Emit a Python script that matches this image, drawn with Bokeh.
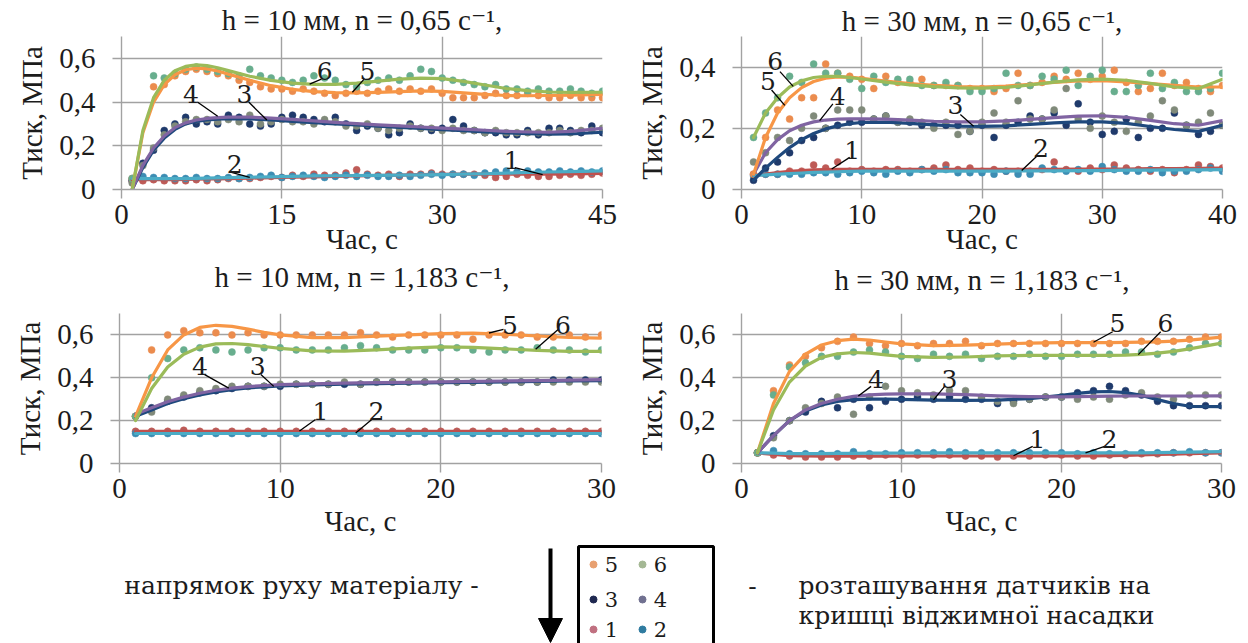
import numpy as np
from bokeh.plotting import figure
from bokeh.layouts import column, row
from bokeh.models import (Range1d, FixedTicker, CustomJSTickFormatter, Label, Title,
                          Arrow, NormalHead, ColumnDataSource)
from bokeh.embed import file_html
from bokeh.resources import INLINE
from bokeh.core.properties import value

NAN = float("nan")

# ---------------- data ----------------
t1 = list(range(1, 46))
p1_s1 = [0.04,0.04,0.045,0.04,0.04,0.04,0.045,0.04,0.045,0.05,0.05,0.05,0.055,0.06,0.055,0.065,0.06,0.07,0.065,0.065,0.075,0.09,0.07,0.065,0.07,0.06,0.07,0.07,0.075,0.07,0.07,0.07,0.07,0.065,0.055,0.06,0.07,0.065,0.06,0.06,0.065,0.07,0.065,0.07,0.075]
p1_s2 = [0.05,0.06,0.055,0.055,0.05,0.05,0.055,0.05,0.05,0.055,0.05,0.055,0.06,0.065,0.055,0.06,0.065,0.06,0.055,0.06,0.065,0.06,0.065,0.06,0.06,0.065,0.06,0.065,0.07,0.065,0.07,0.07,0.065,0.075,0.08,0.085,0.08,0.085,0.08,0.08,0.085,0.08,0.085,0.08,0.085]
p1_s3 = [0.04,0.12,0.18,0.27,0.30,0.33,0.30,0.31,0.30,0.34,0.33,0.30,0.29,0.30,0.33,0.34,0.33,0.32,0.31,0.33,0.30,0.27,0.29,0.28,0.25,0.26,0.30,0.28,0.27,0.28,0.32,0.29,0.27,0.26,0.26,0.25,0.25,0.27,0.25,0.28,0.28,0.27,0.26,0.29,0.26]
p1_s4 = [0.03,0.11,0.19,0.25,0.29,0.31,0.32,0.32,0.31,0.32,0.31,0.34,0.30,0.31,0.32,0.31,0.31,0.30,0.32,0.31,0.29,0.29,0.30,0.28,0.27,0.28,0.29,0.28,0.28,0.27,0.28,0.27,0.27,0.26,0.27,0.26,0.26,0.26,0.26,0.26,0.27,0.26,0.27,0.27,0.28]
p1_s5 = [0.05,NAN,0.47,0.48,0.52,0.54,0.55,0.54,0.53,0.52,0.50,0.49,0.47,0.46,0.46,0.45,0.46,0.45,0.44,0.43,0.44,0.45,0.44,0.45,0.46,0.45,0.46,0.45,0.46,0.44,0.42,0.42,0.42,0.43,0.44,0.43,0.43,0.44,0.43,0.42,0.42,0.43,0.42,0.42,0.42]
p1_s6 = [0.05,NAN,0.52,0.51,0.53,0.55,0.56,0.55,0.54,0.53,0.52,0.55,0.52,0.51,0.50,0.49,0.50,0.52,0.51,0.50,0.48,0.47,0.49,0.50,0.51,0.50,0.52,0.55,0.54,0.51,0.50,0.49,0.48,0.47,0.48,0.46,0.46,0.45,0.46,0.45,0.45,0.46,0.45,0.44,0.45]
k1 = [1,2,3,4,5,6,7,8,9,10,12,14,16,18,20,22,24,26,28,30,32,34,36,38,40,42,45]
p1_l1 = [0.045,0.045,0.045,0.045,0.045,0.046,0.047,0.048,0.049,0.05,0.052,0.054,0.056,0.058,0.06,0.062,0.064,0.066,0.068,0.069,0.07,0.07,0.07,0.07,0.07,0.071,0.074]
p1_l2 = [0.05,0.05,0.05,0.05,0.05,0.05,0.051,0.052,0.053,0.054,0.056,0.058,0.06,0.062,0.063,0.064,0.065,0.066,0.067,0.068,0.07,0.072,0.075,0.078,0.08,0.082,0.085]
p1_l3 = [0.0,0.10,0.18,0.235,0.275,0.30,0.312,0.318,0.322,0.324,0.323,0.318,0.312,0.306,0.30,0.295,0.29,0.284,0.279,0.274,0.269,0.264,0.259,0.255,0.253,0.254,0.262]
p1_l4 = [0.0,0.11,0.19,0.245,0.283,0.305,0.318,0.325,0.329,0.331,0.331,0.327,0.321,0.314,0.307,0.301,0.296,0.291,0.286,0.281,0.276,0.271,0.266,0.263,0.262,0.266,0.28]
p1_l5 = [0.0,0.26,0.40,0.48,0.525,0.548,0.555,0.552,0.542,0.528,0.50,0.475,0.458,0.448,0.443,0.442,0.444,0.448,0.451,0.449,0.442,0.435,0.43,0.429,0.43,0.432,0.435]
p1_l6 = [0.0,0.27,0.42,0.50,0.543,0.563,0.57,0.567,0.557,0.544,0.518,0.499,0.487,0.481,0.481,0.487,0.496,0.505,0.51,0.507,0.495,0.478,0.462,0.452,0.446,0.444,0.445]

t2 = list(range(1, 41))
p2_s1 = [0.05,0.05,0.05,0.06,0.06,0.08,0.07,0.09,0.06,0.065,0.06,0.065,0.065,0.06,0.065,0.07,0.08,0.065,0.07,0.06,0.065,0.06,0.06,0.06,0.065,0.09,0.065,0.06,0.07,0.065,0.08,0.07,0.065,0.06,0.065,0.055,0.065,0.08,0.075,0.07]
p2_s2 = [0.045,0.05,0.05,0.05,0.05,0.055,0.055,0.05,0.055,0.06,0.055,0.05,0.06,0.055,0.065,0.06,0.065,0.055,0.055,0.055,0.05,0.06,0.05,0.05,0.07,0.065,0.06,0.065,0.06,0.075,0.065,0.06,0.06,0.065,0.055,0.06,0.06,0.065,0.07,0.06]
p2_s3 = [0.03,0.07,0.09,0.12,0.16,0.17,0.20,0.21,0.22,0.22,0.23,0.24,0.22,0.22,0.21,0.21,0.21,0.21,0.19,0.21,0.17,0.21,0.22,0.24,0.23,0.25,0.21,0.28,0.22,0.18,0.19,0.23,0.17,0.20,0.20,0.25,0.21,0.18,0.19,0.21]
p2_s4 = [0.09,0.12,0.17,0.16,0.20,0.24,0.20,0.26,0.26,0.26,0.23,0.24,0.22,0.23,0.22,0.20,0.22,0.18,0.19,0.22,0.25,0.22,0.29,0.23,0.23,0.26,0.33,0.23,0.20,0.24,0.22,0.19,0.22,0.24,0.29,0.26,0.21,0.22,0.25,0.21]
p2_s5 = [0.05,0.17,0.26,0.23,0.30,0.30,0.41,0.38,0.37,0.36,0.33,0.37,0.35,0.35,0.36,0.34,0.34,0.34,0.33,0.33,0.32,0.33,0.38,0.34,0.35,0.37,0.36,0.38,0.36,0.37,0.39,0.35,0.32,0.33,0.38,0.34,0.35,0.33,0.32,0.34]
p2_s6 = [0.17,0.25,0.30,0.37,0.35,0.41,0.38,0.38,0.36,0.33,0.37,0.35,0.36,0.36,0.34,0.34,0.35,0.34,0.32,0.32,0.33,0.38,0.34,0.34,0.37,0.36,0.39,0.34,0.37,0.39,0.32,0.32,0.34,0.38,0.33,0.35,0.32,0.32,0.33,0.38]
k2 = [1,2,3,4,5,6,7,8,9,10,12,14,16,18,20,22,24,26,28,30,32,34,36,38,40]
p2_l1 = [0.045,0.05,0.055,0.059,0.062,0.064,0.065,0.066,0.066,0.066,0.066,0.066,0.066,0.066,0.066,0.066,0.066,0.066,0.067,0.067,0.067,0.068,0.068,0.069,0.07]
p2_l2 = [0.045,0.048,0.05,0.052,0.054,0.056,0.057,0.058,0.059,0.06,0.06,0.06,0.06,0.06,0.06,0.06,0.061,0.061,0.062,0.062,0.063,0.063,0.064,0.064,0.065]
p2_l3 = [0.03,0.07,0.105,0.137,0.163,0.183,0.198,0.208,0.215,0.219,0.22,0.216,0.211,0.207,0.206,0.208,0.213,0.218,0.221,0.221,0.216,0.206,0.196,0.19,0.21]
p2_l4 = [0.05,0.12,0.163,0.192,0.21,0.221,0.227,0.23,0.231,0.231,0.23,0.227,0.223,0.221,0.221,0.224,0.229,0.235,0.24,0.241,0.236,0.226,0.215,0.21,0.225]
p2_l5 = [0.05,0.17,0.25,0.30,0.333,0.353,0.364,0.368,0.367,0.363,0.354,0.346,0.34,0.336,0.335,0.338,0.344,0.35,0.355,0.356,0.352,0.346,0.34,0.335,0.335]
p2_l6 = [0.17,0.25,0.30,0.335,0.355,0.366,0.37,0.37,0.366,0.361,0.351,0.342,0.336,0.332,0.331,0.334,0.342,0.351,0.358,0.361,0.357,0.347,0.335,0.33,0.36]

t3 = list(range(1, 31))
p3_s1 = [0.15,0.15,0.15,0.155,0.15,0.15,0.15,0.15,0.15,0.15,0.15,0.15,0.15,0.15,0.15,0.15,0.15,0.15,0.15,0.15,0.15,0.15,0.15,0.15,0.15,0.15,0.15,0.15,0.15,0.15]
p3_s2 = [0.14,0.14,0.14,0.14,0.14,0.14,0.14,0.14,0.14,0.14,0.14,0.14,0.14,0.14,0.14,0.14,0.14,0.14,0.14,0.14,0.14,0.14,0.14,0.14,0.14,0.14,0.14,0.14,0.14,0.14]
p3_s3 = [0.22,0.26,0.29,0.31,0.33,0.34,0.35,0.36,0.36,0.36,0.37,0.37,0.37,0.37,0.37,0.38,0.38,0.38,0.38,0.38,0.38,0.38,0.38,0.38,0.38,0.38,0.39,0.39,0.39,0.39]
p3_s4 = [0.22,0.24,0.30,0.32,0.34,0.35,0.36,0.36,0.36,0.37,0.37,0.37,0.37,0.38,0.37,0.38,0.38,0.38,0.38,0.38,0.38,0.38,0.38,0.38,0.38,0.38,0.38,0.38,0.38,0.38]
p3_s5 = [0.22,0.53,0.60,0.62,0.61,0.61,0.60,0.61,0.60,0.60,0.60,0.60,0.60,0.60,0.61,0.60,0.59,0.60,0.60,0.60,0.60,0.58,0.60,0.60,0.60,0.59,0.59,0.60,0.59,0.60]
p3_s6 = [0.22,0.40,0.49,0.53,0.54,0.53,0.52,0.53,0.54,0.54,0.53,0.53,0.53,0.54,0.55,0.54,0.53,0.53,0.53,0.54,0.54,0.53,0.52,0.53,0.53,0.54,0.53,0.53,0.52,0.53]
k3 = [1,2,3,4,5,6,7,8,9,10,12,14,16,18,20,22,24,26,28,30]
p3_l1 = [0.15,0.15,0.15,0.15,0.15,0.15,0.15,0.15,0.15,0.15,0.15,0.15,0.15,0.15,0.15,0.15,0.15,0.15,0.15,0.15]
p3_l2 = [0.14,0.14,0.14,0.14,0.14,0.14,0.14,0.14,0.14,0.14,0.14,0.14,0.14,0.14,0.14,0.14,0.14,0.14,0.14,0.14]
p3_l3 = [0.22,0.25,0.28,0.302,0.32,0.334,0.345,0.353,0.358,0.362,0.367,0.37,0.373,0.375,0.377,0.379,0.381,0.383,0.385,0.387]
p3_l4 = [0.23,0.26,0.288,0.31,0.328,0.342,0.352,0.359,0.364,0.368,0.372,0.375,0.377,0.379,0.381,0.383,0.385,0.387,0.389,0.391]
p3_l5 = [0.22,0.40,0.53,0.60,0.635,0.645,0.64,0.627,0.612,0.60,0.587,0.587,0.594,0.60,0.606,0.608,0.603,0.595,0.588,0.585]
p3_l6 = [0.20,0.35,0.45,0.51,0.543,0.558,0.56,0.555,0.546,0.537,0.526,0.524,0.53,0.538,0.544,0.542,0.535,0.528,0.523,0.523]

t4 = list(range(1, 31))
p4_s1 = [0.05,0.04,0.035,0.03,0.03,0.03,0.035,0.035,0.04,0.04,0.04,0.04,0.04,0.035,0.035,0.03,0.035,0.035,0.04,0.04,0.035,0.035,0.04,0.04,0.045,0.045,0.05,0.05,0.05,0.05]
p4_s2 = [0.05,0.06,0.045,0.045,0.045,0.045,0.055,0.045,0.045,0.05,0.05,0.05,0.055,0.05,0.05,0.05,0.05,0.05,0.05,0.05,0.045,0.05,0.045,0.045,0.05,0.05,0.05,0.055,0.05,0.05]
p4_s3 = [0.05,0.13,0.20,0.24,0.29,0.26,0.30,0.26,0.29,0.30,0.31,0.30,0.31,0.30,0.30,0.28,0.29,0.30,0.31,0.31,0.33,0.34,0.36,0.34,0.32,0.29,0.27,0.27,0.27,0.27]
p4_s4 = [0.05,0.12,0.20,0.26,0.28,0.31,0.23,0.31,0.36,0.34,0.33,0.32,0.34,0.34,0.31,0.29,0.28,0.30,0.31,0.31,0.30,0.31,0.30,0.32,0.33,0.31,0.30,0.32,0.32,0.32]
p4_s5 = [0.05,0.34,0.46,0.50,0.54,0.57,0.59,0.56,0.55,0.56,0.55,0.56,0.56,0.57,0.55,0.56,0.56,0.56,0.56,0.56,0.56,0.56,0.56,0.56,0.57,0.57,0.57,0.58,0.59,0.59]
p4_s6 = [0.05,0.32,0.45,0.47,0.50,0.50,0.52,0.53,0.52,0.50,0.49,0.51,0.50,0.51,0.49,0.50,0.50,0.51,0.50,0.50,0.51,0.51,0.51,0.52,0.52,0.51,0.52,0.54,0.56,0.56]
k4 = [1,2,3,4,5,6,7,8,9,10,12,14,16,18,20,21,22,23,24,25,26,27,28,30]
p4_l1 = [0.05,0.042,0.037,0.035,0.034,0.034,0.034,0.034,0.034,0.035,0.035,0.035,0.035,0.035,0.035,0.035,0.036,0.037,0.038,0.04,0.042,0.044,0.046,0.05]
p4_l2 = [0.05,0.048,0.046,0.046,0.046,0.047,0.047,0.048,0.048,0.049,0.05,0.05,0.05,0.05,0.05,0.05,0.05,0.05,0.05,0.05,0.051,0.052,0.053,0.055]
p4_l3 = [0.05,0.13,0.20,0.245,0.273,0.29,0.298,0.30,0.30,0.299,0.296,0.295,0.296,0.303,0.318,0.327,0.334,0.336,0.331,0.318,0.298,0.28,0.267,0.265]
p4_l4 = [0.05,0.13,0.20,0.25,0.28,0.30,0.313,0.32,0.324,0.325,0.325,0.321,0.316,0.312,0.311,0.312,0.313,0.314,0.315,0.315,0.315,0.315,0.315,0.316]
p4_l5 = [0.05,0.28,0.43,0.51,0.553,0.573,0.58,0.576,0.567,0.558,0.55,0.552,0.557,0.562,0.564,0.564,0.564,0.564,0.565,0.566,0.568,0.571,0.576,0.59]
p4_l6 = [0.05,0.25,0.38,0.455,0.495,0.512,0.518,0.515,0.507,0.50,0.495,0.497,0.502,0.505,0.505,0.505,0.505,0.505,0.506,0.509,0.515,0.523,0.535,0.562]

titles = ["h = 10 мм, n = 0,65 с\u207b\u00b9,", "h = 30 мм, n = 0,65 с\u207b\u00b9,",
          "h = 10 мм, n = 1,183 с\u207b\u00b9,", "h = 30 мм, n = 1,183 с\u207b\u00b9,"]
x_ticks = [[0, 15, 30, 45], [0, 10, 20, 30, 40], [0, 10, 20, 30], [0, 10, 20, 30]]
y_ticks = [[0, 0.2, 0.4, 0.6], [0, 0.2, 0.4], [0, 0.2, 0.4, 0.6], [0, 0.2, 0.4, 0.6]]
x_title = "Час, с"
y_title = "Тиск, МПа"
legend_order = ["5", "6", "3", "4", "1", "2"]
bottom_left_text = "напрямок руху матеріалу  -"
bottom_right_text = ["розташування  датчиків на", "кришці віджимної насадки"]

# curve-number callouts: (label, text x, text y, leader x0, y0, x1, y1)
callouts = [
    [("6", 19.0, 0.54, 18.7, 0.505, 17.6, 0.482), ("5", 23.0, 0.54, 22.7, 0.505, 21.6, 0.445),
     ("4", 6.5, 0.435, 7.1, 0.40, 9.0, 0.335), ("3", 11.5, 0.435, 11.9, 0.40, 13.6, 0.318),
     ("2", 10.6, 0.115, 10.2, 0.08, 12.0, 0.055), ("1", 36.5, 0.135, 36.8, 0.10, 39.4, 0.068)],
    [("6", 2.8, 0.42, 3.2, 0.385, 4.3, 0.337), ("5", 2.2, 0.355, 2.5, 0.325, 3.6, 0.275),
     ("4", 8.0, 0.305, 7.6, 0.28, 6.5, 0.225), ("3", 17.8, 0.275, 18.2, 0.245, 19.3, 0.207),
     ("1", 9.2, 0.13, 9.0, 0.105, 7.5, 0.067), ("2", 24.9, 0.135, 24.6, 0.11, 23.3, 0.062)],
    [("5", 24.3, 0.648, 23.9, 0.626, 23.0, 0.609), ("6", 27.6, 0.648, 27.3, 0.625, 25.9, 0.533),
     ("4", 5.0, 0.455, 5.3, 0.415, 6.8, 0.352), ("3", 8.6, 0.455, 8.8, 0.415, 9.6, 0.36),
     ("1", 12.5, 0.245, 12.2, 0.205, 11.2, 0.152), ("2", 16.0, 0.245, 15.7, 0.205, 14.7, 0.142)],
    [("5", 23.5, 0.655, 23.2, 0.615, 22.0, 0.566), ("6", 26.5, 0.655, 26.2, 0.615, 24.8, 0.508),
     ("4", 8.4, 0.395, 8.1, 0.36, 7.3, 0.315), ("3", 13.0, 0.395, 12.7, 0.36, 12.0, 0.297),
     ("1", 18.5, 0.115, 18.2, 0.08, 17.0, 0.036), ("2", 23.0, 0.115, 22.7, 0.08, 21.5, 0.05)],
]

# ---------------- styling ----------------
FONT = "'Liberation Serif', 'Times New Roman', 'DejaVu Serif', serif"   # titles / axes
LFONT = "DejaVu Serif"                                                   # labels / text glyphs
TXT = "#1c1c1c"
GRID = "#a2a2a2"
LINE_COLORS = {1: "#C0504D", 2: "#4BACC6", 3: "#1F497D", 4: "#8064A2", 5: "#F79646", 6: "#9BBB59"}
PT_COLORS = {1: "#BE5B57", 2: "#3D8DB3", 3: "#1F3A6B", 4: "#808A7A", 5: "#EB8C4E", 6: "#68AE8E"}
FS = "29px"
CFS = "25px"

# row 1 figures also carry (below their x axis) the titles of the row 2 panels
panels = [
    dict(t=t1, s=[p1_s1, p1_s2, p1_s3, p1_s4, p1_s5, p1_s6], k=k1,
         l=[p1_l1, p1_l2, p1_l3, p1_l4, p1_l5, p1_l6], xmax=45, ymax=0.7,
         w=620, h=305, bl=121, br=18, bt=35, bb=116, ts=2, xs=-4, below=2, bs=3),
    dict(t=t2, s=[p2_s1, p2_s2, p2_s3, p2_s4, p2_s5, p2_s6], k=k2,
         l=[p2_l1, p2_l2, p2_l3, p2_l4, p2_l5, p2_l6], xmax=40, ymax=0.5,
         w=628, h=305, bl=121, br=26, bt=33, bb=112, ts=0, xs=-4, below=3, bs=9),
    dict(t=t3, s=[p3_s1, p3_s2, p3_s3, p3_s4, p3_s5, p3_s6], k=k3,
         l=[p3_l1, p3_l2, p3_l3, p3_l4, p3_l5, p3_l6], xmax=30, ymax=0.7,
         w=620, h=235, bl=119, br=19, bt=8, bb=77, ts=None, xs=4, below=None, bs=0),
    dict(t=t4, s=[p4_s1, p4_s2, p4_s3, p4_s4, p4_s5, p4_s6], k=k4,
         l=[p4_l1, p4_l2, p4_l3, p4_l4, p4_l5, p4_l6], xmax=30, ymax=0.7,
         w=628, h=235, bl=121, br=27, bt=8, bb=75, ts=None, xs=4, below=None, bs=0),
]


def make_panel(i, cfg):
    p = figure(width=cfg["w"], height=cfg["h"], x_range=Range1d(0, cfg["xmax"]),
               y_range=Range1d(0, cfg["ymax"]), output_backend="svg", toolbar_location=None,
               min_border_left=cfg["bl"], min_border_right=cfg["br"],
               min_border_top=cfg["bt"], min_border_bottom=cfg["bb"],
               title=None if cfg["ts"] is None else titles[i])
    p.outline_line_color = None
    if cfg["ts"] is not None:
        p.title.align = "center"
        p.title.text_font = FONT
        p.title.text_font_size = FS
        p.title.text_font_style = "normal"
        p.title.text_color = TXT
        p.title.standoff = cfg["ts"]
    p.xaxis.ticker = FixedTicker(ticks=x_ticks[i])
    p.yaxis.ticker = FixedTicker(ticks=y_ticks[i])
    p.yaxis.formatter = CustomJSTickFormatter(
        code="return tick == 0 ? '0' : tick.toFixed(1).replace('.', ',');")
    p.xaxis.axis_label = x_title
    p.yaxis.axis_label = y_title
    for ax in (p.xaxis[0], p.yaxis[0]):
        ax.axis_line_color = GRID
        ax.axis_line_width = 1.4
        ax.major_tick_line_color = GRID
        ax.major_tick_line_width = 1.4
        ax.major_tick_out = 9
        ax.major_tick_in = 0
        ax.minor_tick_line_color = None
        ax.major_label_text_font = FONT
        ax.major_label_text_font_size = FS
        ax.major_label_text_color = TXT
        ax.axis_label_text_font = FONT
        ax.axis_label_text_font_size = FS
        ax.axis_label_text_font_style = "normal"
        ax.axis_label_text_color = TXT
    p.xaxis.major_label_standoff = 6
    p.xaxis.axis_label_standoff = cfg["xs"]
    p.yaxis.major_label_standoff = 17
    p.yaxis.axis_label_standoff = 8
    p.xgrid.grid_line_color = GRID
    p.ygrid.grid_line_color = GRID
    p.xgrid.grid_line_width = 1.4
    p.ygrid.grid_line_width = 1.4
    if cfg["below"] is not None:
        p.add_layout(Title(text=titles[cfg["below"]], align="center", text_font=FONT,
                           text_font_size=FS, text_font_style="normal", text_color=TXT,
                           standoff=cfg["bs"]), "below")

    for j in range(6):
        src = ColumnDataSource(dict(x=cfg["t"], y=cfg["s"][j]))
        p.scatter("x", "y", source=src, size=7, fill_color=PT_COLORS[j + 1],
                  line_color=PT_COLORS[j + 1], line_alpha=0.5)
    for j in range(6):
        p.line(cfg["k"], cfg["l"][j], line_color=LINE_COLORS[j + 1], line_width=3.2,
               line_join="round", line_cap="round")
    for (lab, tx, ty, x0, y0, x1, y1) in callouts[i]:
        p.segment(x0=[x0], y0=[y0], x1=[x1], y1=[y1], line_color="black", line_width=1.3)
        p.add_layout(Label(x=tx, y=ty, text=lab, text_font=LFONT,
                           text_font_size=CFS, text_color=TXT, text_align="center",
                           text_baseline="middle"))
    return p


figs = [make_panel(i, c) for i, c in enumerate(panels)]

# ---------------- bottom scheme ----------------
BFS = "25px"
pb = figure(width=1248, height=103, x_range=Range1d(0, 1248), y_range=Range1d(643, 540),
            output_backend="svg", toolbar_location=None, min_border=0,
            x_axis_location=None, y_axis_location=None)
pb.outline_line_color = None
pb.xgrid.visible = False
pb.ygrid.visible = False
pb.add_layout(Label(x=305, y=585, text=bottom_left_text, text_align="center",
                    text_baseline="middle", text_font=LFONT, text_font_size=BFS, text_color=TXT))
pb.add_layout(Label(x=752, y=585, text="-", text_align="center", text_baseline="middle",
                    text_font=LFONT, text_font_size=BFS, text_color=TXT))
pb.add_layout(Label(x=798, y=585, text=bottom_right_text[0], text_align="left",
                    text_baseline="middle", text_font=LFONT, text_font_size=BFS, text_color=TXT))
pb.add_layout(Label(x=798, y=615, text=bottom_right_text[1], text_align="left",
                    text_baseline="middle", text_font=LFONT, text_font_size=BFS, text_color=TXT))
pb.add_layout(Arrow(end=NormalHead(size=24, fill_color="black", line_color="black"),
                    x_start=550, y_start=548, x_end=550, y_end=642,
                    line_color="black", line_width=4))
pb.line(x=[578, 578, 713, 713], y=[650, 546, 546, 650], line_color="black", line_width=3)
leg_src = ColumnDataSource(dict(
    x=[593, 642, 593, 642, 593, 642], y=[564, 564, 599, 599, 629, 629],
    c=["#E8A070", "#A4B894", "#1F2850", "#707090", "#C07080", "#2F7BA0"],
    lx=[611, 660, 611, 660, 611, 660], t=legend_order))
pb.scatter("x", "y", source=leg_src, size=7, fill_color="c", line_color="c")
pb.text("lx", "y", text="t", source=leg_src, text_font=value(LFONT),
        text_font_size="21px", text_color=TXT, text_align="center", text_baseline="middle")

layout = column(row(figs[0], figs[1]), row(figs[2], figs[3]), pb)
open("out.html", "w").write(file_html(layout, INLINE))
